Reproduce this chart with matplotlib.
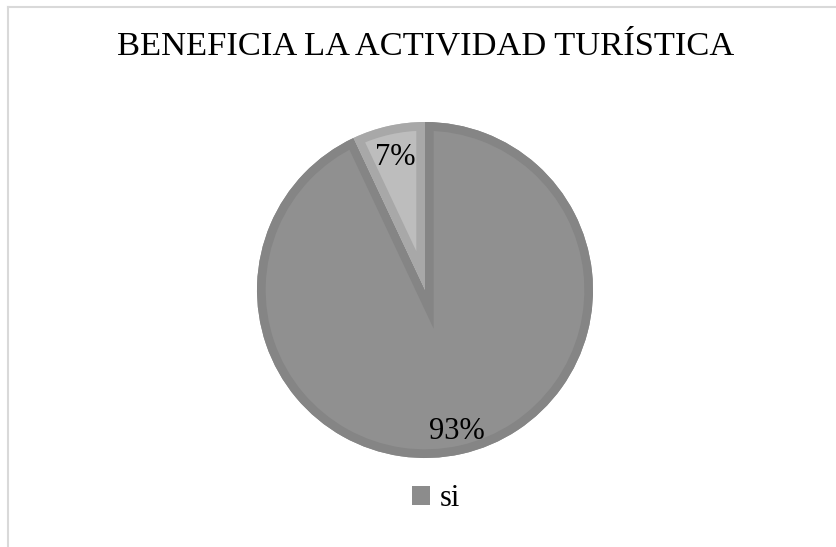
import matplotlib
matplotlib.use("Agg")
from matplotlib import pyplot as plt
from matplotlib.lines import Line2D
from matplotlib.patches import Rectangle, Wedge

plt.rcParams['font.family'] = ['Liberation Serif', 'DejaVu Serif']

title = "BENEFICIA LA ACTIVIDAD TURÍSTICA"
categories = ["si", "no"]
values = [93, 7]
fill_colors = ["#909090", "#bdbdbd"]
edge_colors = ["#858585", "#a8a8a8"]
label_dist = [0.86, 0.81]

fig = plt.figure(figsize=(8.37, 5.47), dpi=100)

# light frame on top and left side only
fig.add_artist(Line2D([8 / 837, 8 / 837], [0, 1 - 7 / 547], color="#d9d9d9", lw=1.5))
fig.add_artist(Line2D([8 / 837, 1], [1 - 7 / 547, 1 - 7 / 547], color="#d9d9d9", lw=1.5))

fig.text(426 / 837, 1 - 46 / 547, title, ha="center", va="center", fontsize=24.8)

ax = fig.add_axes([257 / 837, (547 - 458) / 547, 336 / 837, 336 / 547])
wedges, texts, autotexts = ax.pie(values, colors=fill_colors, startangle=90, counterclock=False,
                                  autopct="%1.0f%%", pctdistance=1.0, radius=1,
                                  textprops={"fontsize": 22})
# border drawn only inside each slice
for w, ec in zip(wedges, edge_colors):
    w.set_edgecolor("none")
    border = Wedge(w.center, w.r, w.theta1, w.theta2, facecolor="none", edgecolor=ec, lw=12.5)
    ax.add_patch(border)
    border.set_clip_path(w)
for t, d in zip(autotexts, label_dist):
    x, y = t.get_position()
    t.set_position((x * d, y * d))
    t.set_zorder(5)
ax.set_xlim(-1, 1)
ax.set_ylim(-1, 1)
ax.set_aspect("equal")

handle = Rectangle((0, 0), 1, 1, facecolor="#8c8c8c", edgecolor="none")
fig.legend([handle], categories[:1], loc="center", bbox_to_anchor=(436 / 837, 1 - 499 / 547),
           frameon=False, fontsize=22, handlelength=0.6, handleheight=0.6, handletextpad=0.3)

fig.savefig("out.png", dpi=100)
